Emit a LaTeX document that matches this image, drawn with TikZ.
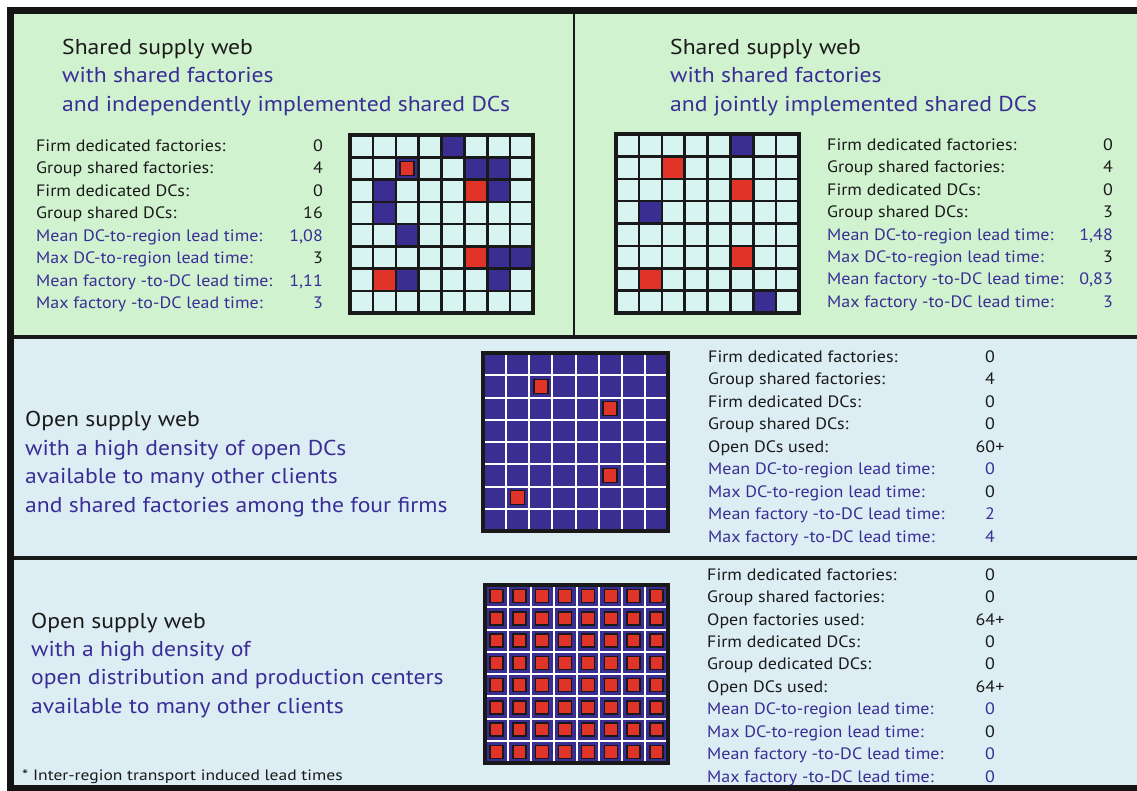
\documentclass[tikz,border=0pt]{standalone}
\usepackage{fontspec}
\setmainfont{PT Sans}
\newfontfamily\titlefam[FakeStretch=1.1]{PT Sans}
\newfontfamily\statfam[FakeStretch=1.09]{PT Sans}
\newfontfamily\footfam[FakeStretch=1.17]{PT Sans}
\definecolor{bggreen}{RGB}{209,242,207}
\definecolor{bgblue}{RGB}{220,237,243}
\definecolor{dblue}{RGB}{58,46,147}
\definecolor{redc}{RGB}{224,52,40}
\definecolor{cyanc}{RGB}{216,244,241}
\definecolor{tblue}{RGB}{58,46,150}
\definecolor{tblack}{RGB}{26,26,26}
\tikzset{
  title/.style={anchor=base west,inner sep=0pt,font=\titlefam\fontsize{21.5}{25}\selectfont,text=tblack},
  sub/.style={title,text=tblue},
  lab/.style={anchor=base west,inner sep=0pt,font=\statfam\fontsize{16.5}{20}\selectfont,text=tblack},
  blab/.style={lab,text=tblue},
  val/.style={anchor=base east,inner sep=0pt,font=\statfam\fontsize{16.5}{20}\selectfont,text=tblack},
  bval/.style={val,text=tblue},
  cval/.style={anchor=base,inner sep=0pt,font=\statfam\fontsize{16.5}{20}\selectfont,text=tblack},
  cbval/.style={cval,text=tblue},
  gridline/.style={draw=black!90,line width=2.5pt},
  whiteline/.style={draw=white,line width=2pt},
  gridouter/.style={draw=black!90,line width=3.5pt},
  redsq/.style={fill=redc,draw=black!90,line width=1.6pt},
  divider/.style={draw=black!90,line width=3.5pt},
}
\begin{document}
\begin{tikzpicture}[x=1pt,y=-1pt]
\useasboundingbox (0,0) rectangle (1137,790);
% backgrounds
\fill[bggreen] (10,10) rectangle (1145,337);
\fill[bgblue] (10,337) rectangle (1145,788);
% dividers
\draw[divider] (10,337) -- (1145,337);
\draw[divider] (10,558) -- (1145,558);
\draw[draw=black!90,line width=2pt] (574,10) -- (574,337);
% outer frame
\draw[draw=black!92,line width=7pt] (10,10) rectangle (1150,788.5);

% ---------- Grid 1 ----------
\def\gX{350}\def\gY{135}\def\gcw{22.875}\def\gch{22.25}
\fill[cyanc] (\gX,\gY) rectangle ++(8*\gcw,8*\gch);
\foreach \r/\c in {0/4,1/2,1/5,1/6,2/1,2/6,3/1,4/2,5/6,5/7,6/2,6/6}
  \fill[dblue] (\gX+\c*\gcw,\gY+\r*\gch) rectangle ++(\gcw,\gch);
\foreach \r/\c in {2/5,5/5,6/1}
  \fill[redc] (\gX+\c*\gcw,\gY+\r*\gch) rectangle ++(\gcw,\gch);
\foreach \i in {1,...,7} {
  \draw[gridline] (\gX+\i*\gcw,\gY) -- ++(0,8*\gch);
  \draw[gridline] (\gX,\gY+\i*\gch) -- ++(8*\gcw,0);
}
\draw[redsq] (\gX+2.5*\gcw-7,\gY+1.5*\gch-7) rectangle ++(14,14);
\draw[gridouter] (\gX,\gY) rectangle ++(8*\gcw,8*\gch);

% ---------- Grid 2 ----------
\def\gX{616}\def\gY{134}\def\gcw{22.875}\def\gch{22.375}
\fill[cyanc] (\gX,\gY) rectangle ++(8*\gcw,8*\gch);
\foreach \r/\c in {0/5,3/1,7/6}
  \fill[dblue] (\gX+\c*\gcw,\gY+\r*\gch) rectangle ++(\gcw,\gch);
\foreach \r/\c in {1/2,2/5,5/5,6/1}
  \fill[redc] (\gX+\c*\gcw,\gY+\r*\gch) rectangle ++(\gcw,\gch);
\foreach \i in {1,...,7} {
  \draw[gridline] (\gX+\i*\gcw,\gY) -- ++(0,8*\gch);
  \draw[gridline] (\gX,\gY+\i*\gch) -- ++(8*\gcw,0);
}
\draw[gridouter] (\gX,\gY) rectangle ++(8*\gcw,8*\gch);

% ---------- Grid 3 ----------
\def\gX{483}\def\gY{353}\def\gcw{23.125}\def\gch{22.25}
\fill[dblue] (\gX,\gY) rectangle ++(8*\gcw,8*\gch);
\foreach \i in {1,...,7} {
  \draw[whiteline] (\gX+\i*\gcw,\gY) -- ++(0,8*\gch);
  \draw[whiteline] (\gX,\gY+\i*\gch) -- ++(8*\gcw,0);
}
\foreach \r/\c in {1/2,2/5,5/5,6/1}
  \draw[redsq] (\gX+\c*\gcw+0.5*\gcw-7,\gY+\r*\gch+0.5*\gch-7) rectangle ++(14,14);
\draw[gridouter] (\gX,\gY) rectangle ++(8*\gcw,8*\gch);

% ---------- Grid 4 ----------
\def\gX{485}\def\gY{585}\def\gcw{22.875}\def\gch{22.25}
\fill[dblue] (\gX,\gY) rectangle ++(8*\gcw,8*\gch);
\foreach \i in {1,...,7} {
  \draw[whiteline] (\gX+\i*\gcw,\gY) -- ++(0,8*\gch);
  \draw[whiteline] (\gX,\gY+\i*\gch) -- ++(8*\gcw,0);
}
\foreach \r in {0,...,7}
  \foreach \c in {0,...,7}
    \draw[redsq] (\gX+\c*\gcw+0.5*\gcw-6.5,\gY+\r*\gch+0.5*\gch-6.5) rectangle ++(13,13);
\draw[gridouter] (\gX,\gY) rectangle ++(8*\gcw,8*\gch);

% ---------- Panel 1 text ----------
\node[title] (t1a) at (62,54.5) {Shared supply web};
\node[sub] (t1b) at (62,82.5) {with shared factories};
\node[sub] (t1c) at (62,111.5) {and independently implemented shared DCs};
\foreach \y/\l/\s/\v/\vs [count=\k] in {
  146/Firm dedicated factories:/lab/0/val,
  168/Group shared factories:/lab/4/val,
  191/Firm dedicated DCs:/lab/0/val,
  213/Group shared DCs:/lab/16/val,
  236/Mean DC-to-region lead time:/blab/{1,08}/bval,
  258/Max DC-to-region lead time:/blab/3/val,
  281/Mean factory -to-DC lead time:/blab/{1,11}/bval,
  303/Max factory -to-DC lead time:/blab/3/bval} {
  \node[\s] (p1l\k) at (36,\y+5.8) {\l};
  \node[\vs] (p1v\k) at (323,\y+5.8) {\v};
}

% ---------- Panel 2 text ----------
\node[title] (t2a) at (670,54.5) {Shared supply web};
\node[sub] (t2b) at (670,82.5) {with shared factories};
\node[sub] (t2c) at (670,111.5) {and jointly implemented shared DCs};
\foreach \y/\l/\s/\v/\vs [count=\k] in {
  145/Firm dedicated factories:/lab/0/val,
  167/Group shared factories:/lab/4/val,
  190/Firm dedicated DCs:/lab/0/val,
  212/Group shared DCs:/lab/3/val,
  235/Mean DC-to-region lead time:/blab/{1,48}/bval,
  257/Max DC-to-region lead time:/blab/3/val,
  279/Mean factory -to-DC lead time:/blab/{0,83}/bval,
  302/Max factory -to-DC lead time:/blab/3/bval} {
  \node[\s] (p2l\k) at (827,\y+5.8) {\l};
  \node[\vs] (p2v\k) at (1113,\y+5.8) {\v};
}

% ---------- Panel 3 text ----------
\node[title] (t3a) at (25,426.5) {Open supply web};
\node[sub] (t3b) at (25,455.5) {with a high density of open DCs};
\node[sub] (t3c) at (25,483.5) {available to many other clients};
\node[sub] (t3d) at (25,512.5) {and shared factories among the four firms};
\foreach \y/\l/\s/\v/\vs [count=\k] in {
  357/Firm dedicated factories:/lab/0/cval,
  379/Group shared factories:/lab/4/cval,
  402/Firm dedicated DCs:/lab/0/cval,
  424/Group shared DCs:/lab/0/cval,
  447/Open DCs used:/lab/60+/cval,
  469/Mean DC-to-region lead time:/blab/0/cbval,
  492/Max DC-to-region lead time:/blab/0/cval,
  514/Mean factory -to-DC lead time:/blab/2/cbval,
  537/Max factory -to-DC lead time:/blab/4/cbval} {
  \node[\s] (p3l\k) at (708,\y+5.8) {\l};
  \node[\vs] (p3v\k) at (990,\y+5.8) {\v};
}

% ---------- Panel 4 text ----------
\node[title] (t4a) at (31,628.5) {Open supply web};
\node[sub] (t4b) at (31,656.5) {with a high density of};
\node[sub] (t4c) at (31,684.5) {open distribution and production centers};
\node[sub] (t4d) at (31,713.5) {available to many other clients};
\foreach \y/\l/\s/\v/\vs [count=\k] in {
  575/Firm dedicated factories:/lab/0/cval,
  597/Group shared factories:/lab/0/cval,
  620/Open factories used:/lab/64+/cval,
  642/Firm dedicated DCs:/lab/0/cval,
  664/Group dedicated DCs:/lab/0/cval,
  687/Open DCs used:/lab/64+/cval,
  709/Mean DC-to-region lead time:/blab/0/cbval,
  732/Max DC-to-region lead time:/blab/0/cval,
  754/Mean factory -to-DC lead time:/blab/0/cbval,
  777/Max factory -to-DC lead time:/blab/0/cbval} {
  \node[\s] (p4l\k) at (707,\y+5.8) {\l};
  \node[\vs] (p4v\k) at (990,\y+5.8) {\v};
}
\node[anchor=base west,inner sep=0pt,font=\footfam\fontsize{15}{18}\selectfont,text=tblack] (foot) at (22,780.5) {* Inter-region transport induced lead times};
\end{tikzpicture}
\end{document}
